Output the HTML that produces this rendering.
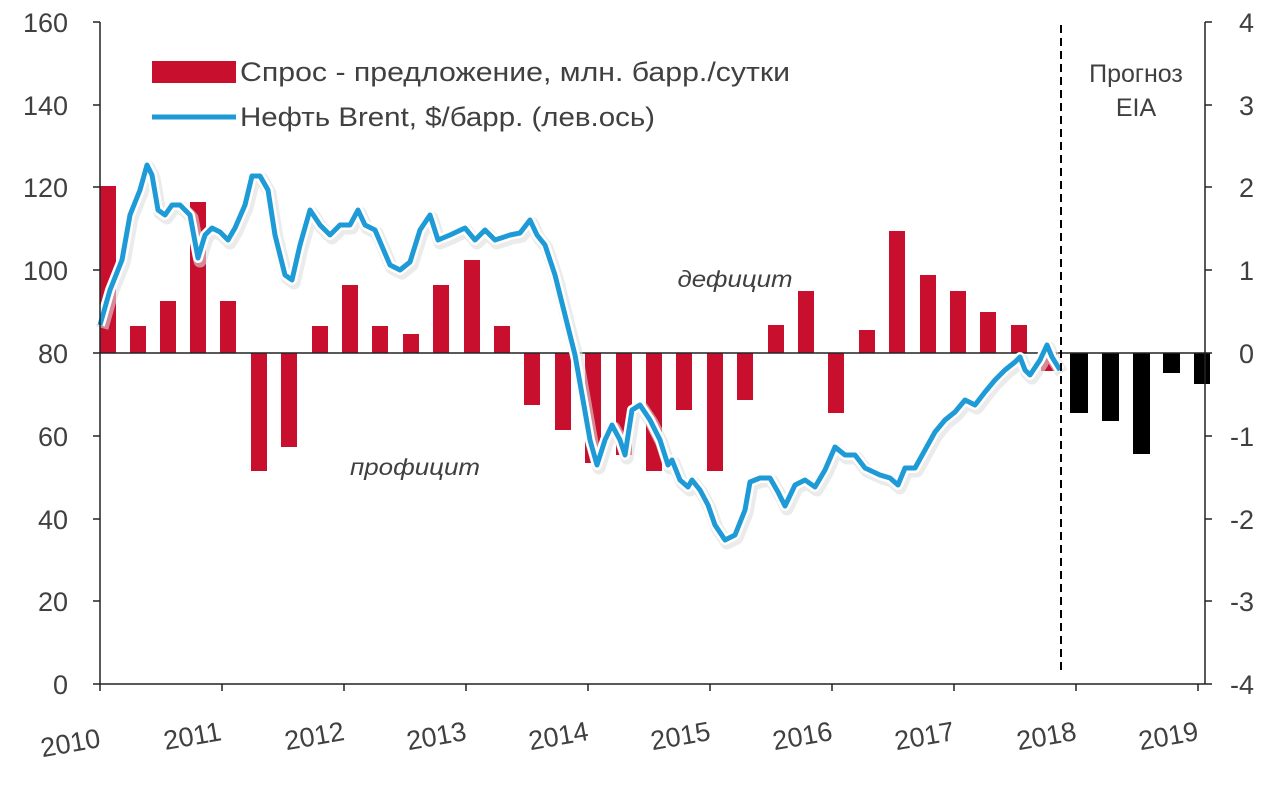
<!DOCTYPE html>
<html><head><meta charset="utf-8"><style>
body{margin:0;background:#fff}
svg text{font-family:"Liberation Sans",sans-serif;fill:#404040}
</style></head><body>
<svg width="1280" height="788" viewBox="0 0 1280 788" xmlns="http://www.w3.org/2000/svg">
<g fill="#c8102e">
<rect x="100" y="186" width="16" height="167"/>
<rect x="130" y="326" width="16" height="27"/>
<rect x="160" y="301" width="16" height="52"/>
<rect x="190" y="202" width="16" height="151"/>
<rect x="220" y="301" width="16" height="52"/>
<rect x="251" y="353" width="16" height="118"/>
<rect x="281" y="353" width="16" height="94"/>
<rect x="312" y="326" width="16" height="27"/>
<rect x="342" y="285" width="16" height="68"/>
<rect x="372" y="326" width="16" height="27"/>
<rect x="403" y="334" width="16" height="19"/>
<rect x="433" y="285" width="16" height="68"/>
<rect x="464" y="260" width="16" height="93"/>
<rect x="494" y="326" width="16" height="27"/>
<rect x="524" y="353" width="16" height="52"/>
<rect x="555" y="353" width="16" height="77"/>
<rect x="585" y="353" width="16" height="110"/>
<rect x="616" y="353" width="16" height="102"/>
<rect x="646" y="353" width="16" height="118"/>
<rect x="676" y="353" width="16" height="57"/>
<rect x="707" y="353" width="16" height="118"/>
<rect x="737" y="353" width="16" height="47"/>
<rect x="768" y="325" width="16" height="28"/>
<rect x="798" y="291" width="16" height="62"/>
<rect x="828" y="353" width="16" height="60"/>
<rect x="859" y="330" width="16" height="23"/>
<rect x="889" y="231" width="16" height="122"/>
<rect x="920" y="275" width="16" height="78"/>
<rect x="950" y="291" width="16" height="62"/>
<rect x="980" y="312" width="16" height="41"/>
<rect x="1011" y="325" width="16" height="28"/>
<rect x="1041" y="353" width="16" height="18"/>
</g>
<g fill="#000">
<rect x="1070" y="353" width="18" height="60"/>
<rect x="1102" y="353" width="17" height="68"/>
<rect x="1133" y="353" width="17" height="101"/>
<rect x="1163" y="353" width="17" height="20"/>
<rect x="1194" y="353" width="16" height="31"/>
</g>
<line x1="100" y1="353" x2="1205" y2="353" stroke="#222" stroke-width="1.5"/>
<polyline fill="none" stroke="#ddd" stroke-width="13" stroke-linejoin="round" opacity="0.6" transform="translate(2,3)" points="100,325 110,290 122,260 130,215 140,190 147,165 152,175 158,210 165,215 172,205 180,205 190,215 198,258 205,235 212,228 220,232 228,240 235,228 245,205 252,176 260,176 268,190 275,235 285,275 292,280 300,245 310,210 320,225 330,235 340,225 350,225 358,210 365,225 375,230 390,265 400,270 410,262 420,230 430,215 438,240 450,235 465,228 475,240 485,230 495,240 510,235 520,233 530,220 537,235 545,245 555,275 565,315 575,355 583,400 590,440 597,465 605,440 612,425 620,440 625,455 632,410 640,405 650,420 660,440 668,465 672,460 680,480 688,487 692,480 700,490 708,505 715,525 725,540 735,535 745,510 750,482 760,478 770,478 778,492 785,506 795,485 805,480 815,487 825,470 835,447 845,455 855,455 865,468 880,475 890,478 898,485 905,468 915,468 925,450 935,432 945,420 955,412 965,400 975,405 985,392 995,380 1005,370 1015,362 1020,357 1025,370 1030,375 1040,360 1047,345 1052,357 1060,370"/>
<polyline fill="none" stroke="#fff" stroke-width="10" stroke-linejoin="round" points="100,325 110,290 122,260 130,215 140,190 147,165 152,175 158,210 165,215 172,205 180,205 190,215 198,258 205,235 212,228 220,232 228,240 235,228 245,205 252,176 260,176 268,190 275,235 285,275 292,280 300,245 310,210 320,225 330,235 340,225 350,225 358,210 365,225 375,230 390,265 400,270 410,262 420,230 430,215 438,240 450,235 465,228 475,240 485,230 495,240 510,235 520,233 530,220 537,235 545,245 555,275 565,315 575,355 583,400 590,440 597,465 605,440 612,425 620,440 625,455 632,410 640,405 650,420 660,440 668,465 672,460 680,480 688,487 692,480 700,490 708,505 715,525 725,540 735,535 745,510 750,482 760,478 770,478 778,492 785,506 795,485 805,480 815,487 825,470 835,447 845,455 855,455 865,468 880,475 890,478 898,485 905,468 915,468 925,450 935,432 945,420 955,412 965,400 975,405 985,392 995,380 1005,370 1015,362 1020,357 1025,370 1030,375 1040,360 1047,345 1052,357 1060,370"/>
<polyline fill="none" stroke="#1e9bd7" stroke-width="5" stroke-linejoin="round" points="100,325 110,290 122,260 130,215 140,190 147,165 152,175 158,210 165,215 172,205 180,205 190,215 198,258 205,235 212,228 220,232 228,240 235,228 245,205 252,176 260,176 268,190 275,235 285,275 292,280 300,245 310,210 320,225 330,235 340,225 350,225 358,210 365,225 375,230 390,265 400,270 410,262 420,230 430,215 438,240 450,235 465,228 475,240 485,230 495,240 510,235 520,233 530,220 537,235 545,245 555,275 565,315 575,355 583,400 590,440 597,465 605,440 612,425 620,440 625,455 632,410 640,405 650,420 660,440 668,465 672,460 680,480 688,487 692,480 700,490 708,505 715,525 725,540 735,535 745,510 750,482 760,478 770,478 778,492 785,506 795,485 805,480 815,487 825,470 835,447 845,455 855,455 865,468 880,475 890,478 898,485 905,468 915,468 925,450 935,432 945,420 955,412 965,400 975,405 985,392 995,380 1005,370 1015,362 1020,357 1025,370 1030,375 1040,360 1047,345 1052,357 1060,370"/>
<g stroke="#222" stroke-width="1.5">
<line x1="100" y1="22" x2="100" y2="684"/>
<line x1="1205" y1="22" x2="1205" y2="684"/>
<line x1="100" y1="684" x2="1205" y2="684"/>
<line x1="93" y1="22" x2="100" y2="22"/><line x1="93" y1="105" x2="100" y2="105"/><line x1="93" y1="187" x2="100" y2="187"/><line x1="93" y1="270" x2="100" y2="270"/><line x1="93" y1="353" x2="100" y2="353"/><line x1="93" y1="436" x2="100" y2="436"/><line x1="93" y1="519" x2="100" y2="519"/><line x1="93" y1="601" x2="100" y2="601"/><line x1="93" y1="684" x2="100" y2="684"/>
<line x1="1205" y1="22" x2="1212" y2="22"/><line x1="1205" y1="105" x2="1212" y2="105"/><line x1="1205" y1="187" x2="1212" y2="187"/><line x1="1205" y1="270" x2="1212" y2="270"/><line x1="1205" y1="353" x2="1212" y2="353"/><line x1="1205" y1="436" x2="1212" y2="436"/><line x1="1205" y1="519" x2="1212" y2="519"/><line x1="1205" y1="601" x2="1212" y2="601"/><line x1="1205" y1="684" x2="1212" y2="684"/>
<line x1="100" y1="684" x2="100" y2="691"/><line x1="222" y1="684" x2="222" y2="691"/><line x1="344" y1="684" x2="344" y2="691"/><line x1="466" y1="684" x2="466" y2="691"/><line x1="588" y1="684" x2="588" y2="691"/><line x1="710" y1="684" x2="710" y2="691"/><line x1="832" y1="684" x2="832" y2="691"/><line x1="954" y1="684" x2="954" y2="691"/><line x1="1076" y1="684" x2="1076" y2="691"/><line x1="1198" y1="684" x2="1198" y2="691"/>
</g>
<line x1="1061" y1="25" x2="1061" y2="670" stroke="#000" stroke-width="2" stroke-dasharray="8,5"/>
<g font-size="27" text-anchor="end">
<text x="68" y="32">160</text><text x="68" y="115">140</text><text x="68" y="197">120</text><text x="68" y="280">100</text><text x="68" y="363">80</text><text x="68" y="446">60</text><text x="68" y="529">40</text><text x="68" y="611">20</text><text x="68" y="694">0</text>
</g>
<g font-size="27" text-anchor="end">
<text x="1254" y="32">4</text><text x="1254" y="115">3</text><text x="1254" y="197">2</text><text x="1254" y="280">1</text><text x="1254" y="363">0</text><text x="1254" y="446">-1</text><text x="1254" y="529">-2</text><text x="1254" y="611">-3</text><text x="1254" y="694">-4</text>
</g>
<g font-size="27" text-anchor="middle">
<text transform="translate(72,752) rotate(-10)">2010</text>
<text transform="translate(194,745) rotate(-10)">2011</text>
<text transform="translate(316,745) rotate(-10)">2012</text>
<text transform="translate(438,745) rotate(-10)">2013</text>
<text transform="translate(560,745) rotate(-10)">2014</text>
<text transform="translate(682,745) rotate(-10)">2015</text>
<text transform="translate(804,745) rotate(-10)">2016</text>
<text transform="translate(926,745) rotate(-10)">2017</text>
<text transform="translate(1048,745) rotate(-10)">2018</text>
<text transform="translate(1170,745) rotate(-10)">2019</text>
</g>
<rect x="152" y="61" width="84" height="22" fill="#c8102e"/>
<text x="240" y="81" font-size="27" textLength="550" lengthAdjust="spacingAndGlyphs">Спрос - предложение, млн. барр./сутки</text>
<line x1="152" y1="117" x2="236" y2="117" stroke="#1e9bd7" stroke-width="5"/>
<text x="240" y="126" font-size="27" textLength="415" lengthAdjust="spacingAndGlyphs">Нефть Brent, $/барр. (лев.ось)</text>
<text x="1136" y="82" font-size="25" text-anchor="middle" fill="#000">Прогноз</text>
<text x="1136" y="116" font-size="25" text-anchor="middle" fill="#000">EIA</text>
<text x="735" y="287" font-size="23" font-style="italic" text-anchor="middle" fill="#000" textLength="115" lengthAdjust="spacingAndGlyphs">дефицит</text>
<text x="415" y="475" font-size="23" font-style="italic" text-anchor="middle" fill="#000" textLength="130" lengthAdjust="spacingAndGlyphs">профицит</text>
</svg>
</body></html>
